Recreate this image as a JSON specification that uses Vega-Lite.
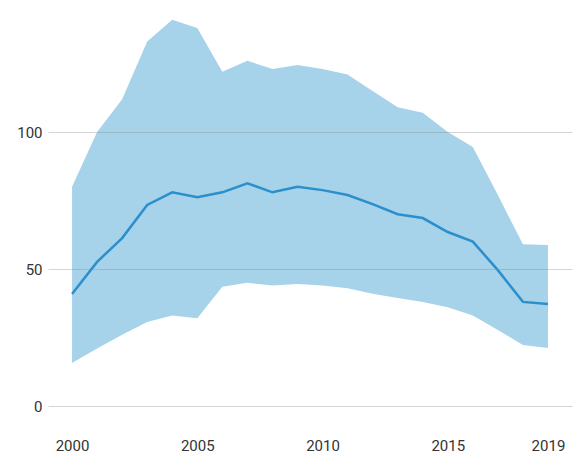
{
  "$schema": "https://vega.github.io/schema/vega-lite/v6.json",
  "width": 524,
  "height": 400,
  "autosize": {"type": "none"},
  "padding": {"left": 48, "top": 6, "right": 4, "bottom": 50},
  "background": "white",
  "config": {
    "view": {"stroke": null},
    "font": "Roboto",
    "axis": {"labelFont": "Roboto", "labelColor": "#333", "labelFontSize": 15}
  },
  "data": {
    "values": [
      {"year": 2000, "low": 15.7, "mean": 40.9, "high": 80},
      {"year": 2001, "low": 21, "mean": 52.6, "high": 100},
      {"year": 2002, "low": 26, "mean": 61.3, "high": 112},
      {"year": 2003, "low": 30.7, "mean": 73.4, "high": 133},
      {"year": 2004, "low": 33, "mean": 78, "high": 141},
      {"year": 2005, "low": 32, "mean": 76.2, "high": 138},
      {"year": 2006, "low": 43.5, "mean": 78, "high": 122},
      {"year": 2007, "low": 45, "mean": 81.3, "high": 126},
      {"year": 2008, "low": 44, "mean": 78, "high": 123},
      {"year": 2009, "low": 44.5, "mean": 80, "high": 124.5},
      {"year": 2010, "low": 44, "mean": 78.8, "high": 123},
      {"year": 2011, "low": 43, "mean": 77, "high": 121},
      {"year": 2012, "low": 41, "mean": 73.7, "high": 115},
      {"year": 2013, "low": 39.4, "mean": 70, "high": 109},
      {"year": 2014, "low": 38, "mean": 68.6, "high": 107},
      {"year": 2015, "low": 36, "mean": 63.5, "high": 100},
      {"year": 2016, "low": 33, "mean": 60, "high": 94.5},
      {"year": 2017, "low": 27.7, "mean": 49.6, "high": 77},
      {"year": 2018, "low": 22.3, "mean": 38, "high": 59},
      {"year": 2019, "low": 21.2, "mean": 37.2, "high": 58.8}
    ]
  },
  "encoding": {
    "x": {
      "field": "year",
      "type": "quantitative",
      "scale": {"domain": [1999.04, 2019.96], "nice": false, "zero": false},
      "axis": {
        "title": null,
        "values": [2000, 2005, 2010, 2015, 2019],
        "format": "d",
        "domain": false,
        "ticks": false,
        "grid": false,
        "labelPadding": 32,
        "labelFlush": false
      }
    }
  },
  "layer": [
    {
      "mark": {"type": "area", "color": "#a6d3ea", "opacity": 1},
      "encoding": {
        "y": {
          "field": "high",
          "type": "quantitative",
          "scale": {"domain": [0, 146], "nice": false},
          "axis": {
            "title": null,
            "values": [0, 50, 100],
            "domain": false,
            "ticks": false,
            "grid": true,
            "gridColor": "#888",
            "gridOpacity": 0.35,
            "labelPadding": 6,
            "zindex": 1
          }
        },
        "y2": {"field": "low"}
      }
    },
    {
      "mark": {"type": "line", "color": "#2b8fcc", "strokeWidth": 2.5},
      "encoding": {
        "y": {"field": "mean", "type": "quantitative"}
      }
    }
  ]
}
